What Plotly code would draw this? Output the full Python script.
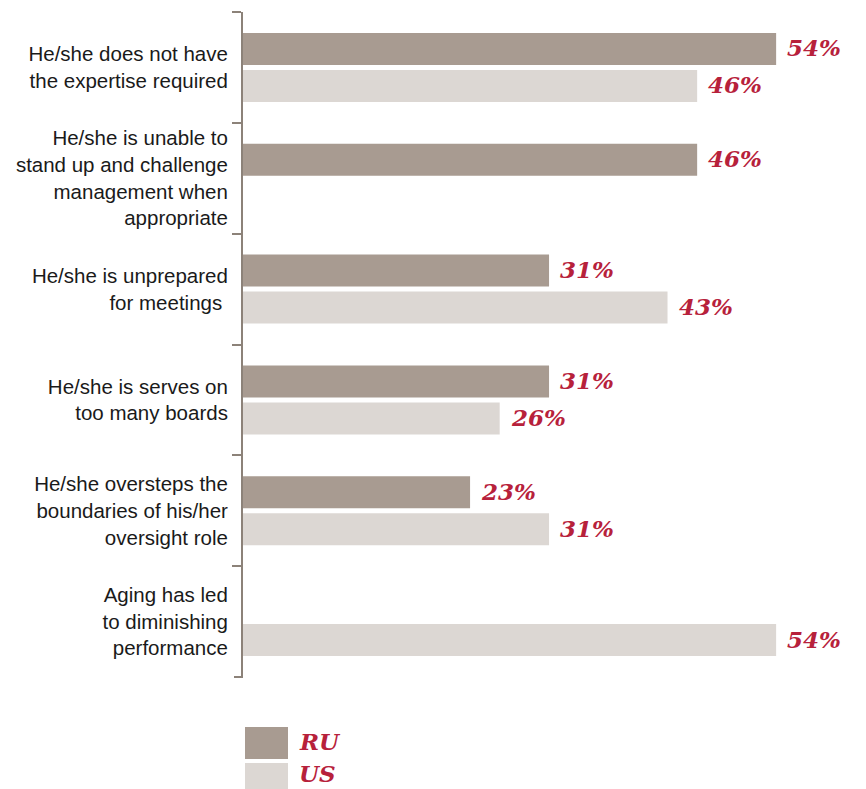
import plotly.graph_objects as go

categories = [
    "He/she does not have<br>the expertise required",
    "He/she is unable to<br>stand up and challenge<br>management when<br>appropriate",
    "He/she is unprepared<br>for meetings ",
    "He/she is serves on<br>too many boards",
    "He/she oversteps the<br>boundaries of his/her<br>oversight role",
    "Aging has led<br>to diminishing<br>performance",
]
ru_values = [54, 46, 31, 31, 23, None]
us_values = [46, None, 43, 26, 31, 54]
series_names = ["RU", "US"]

RU_COLOR = "#a89b91"
US_COLOR = "#dcd7d3"
LABEL_COLOR = "#b7213b"
AXIS_COLOR = "#8c8279"

W, H = 866, 789
M_L, M_R, M_T, M_B = 243, 80, 12, 112
PLOT_H = H - M_T - M_B


def py(pixel_y):
    """Convert a pixel row in the page to paper y."""
    return (H - M_B - pixel_y) / PLOT_H


def px(pixel_x):
    """Convert a pixel column in the page to paper x."""
    return (pixel_x - M_L) / (W - M_L - M_R)


fig = go.Figure()
fig.add_trace(go.Bar(y=categories, x=ru_values, orientation="h", name=series_names[0],
                     marker=dict(color=RU_COLOR, line=dict(width=0)), hoverinfo="x+y"))
fig.add_trace(go.Bar(y=categories, x=us_values, orientation="h", name=series_names[1],
                     marker=dict(color=US_COLOR, line=dict(width=0)), hoverinfo="x+y"))

label_font = dict(family="DejaVu Serif", size=23, color=LABEL_COLOR)
slot_px = 18.5
for vals, shift in ((ru_values, slot_px), (us_values, -slot_px)):
    for cat, v in zip(categories, vals):
        if v is None:
            continue
        fig.add_annotation(x=v, y=cat, text=f"<b><i>{v}%</i></b>", showarrow=False,
                           xanchor="left", yanchor="middle", xshift=9, yshift=shift + 1,
                           font=label_font)

# Closing tick at the bottom end of the category axis
fig.add_shape(type="line", xref="paper", yref="paper",
              x0=px(234), x1=px(243), y0=0, y1=0,
              line=dict(color=AXIS_COLOR, width=2))

# Legend drawn as swatches with text beneath the plot
legend_rows = [(series_names[0], RU_COLOR, 727, 759, 741),
               (series_names[1], US_COLOR, 763, 795, 774)]
for name, color, top, bottom, text_mid in legend_rows:
    fig.add_shape(type="rect", xref="paper", yref="paper",
                  x0=px(245), x1=px(288), y0=py(bottom), y1=py(top),
                  fillcolor=color, line=dict(width=0))
    fig.add_annotation(xref="paper", yref="paper", x=px(298), y=py(text_mid),
                       text=f"<b><i>{name}</i></b>", showarrow=False,
                       xanchor="left", yanchor="middle", borderpad=0, font=label_font)

fig.update_layout(
    width=W, height=H,
    margin=dict(l=M_L, r=M_R, t=M_T, b=M_B, pad=0),
    paper_bgcolor="white", plot_bgcolor="white",
    barmode="group", bargap=0.332, bargroupgap=0.135,
    showlegend=False,
    font=dict(family="Liberation Sans", size=20.5, color="#1a1a1a"),
)
fig.update_xaxes(range=[0, 55], visible=False, fixedrange=True)
fig.update_yaxes(
    type="category", autorange="reversed",
    showline=True, linecolor=AXIS_COLOR, linewidth=2,
    ticks="outside", tickson="boundaries", ticklen=9, tickwidth=2, tickcolor=AXIS_COLOR,
    showgrid=False, zeroline=False, ticklabelstandoff=9,
    tickfont=dict(family="Liberation Sans", size=20.5, color="#1a1a1a"),
)

fig.write_html("out.html")
